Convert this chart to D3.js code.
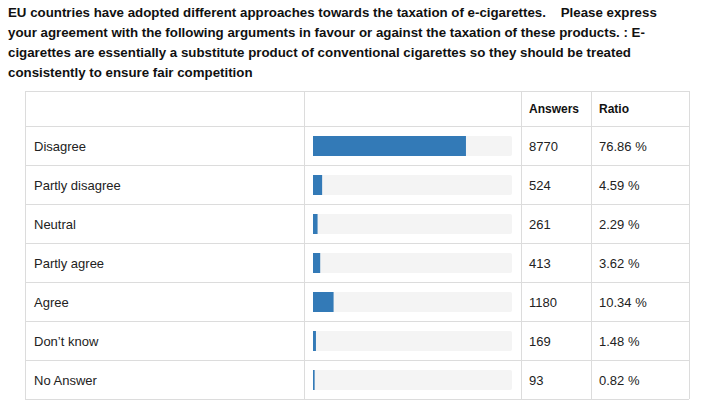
<!DOCTYPE html>
<html><head><meta charset="utf-8">
<script src="https://cdn.jsdelivr.net/npm/d3@7"></script>
<style>body{margin:0;background:#fff}</style></head>
<body><svg id="c" width="703" height="407"></svg>
<script>
const titleLines = ["EU countries have adopted different approaches towards the taxation of e-cigarettes.    Please express",
"your agreement with the following arguments in favour or against the taxation of these products. : E-",
"cigarettes are essentially a substitute product of conventional cigarettes so they should be treated",
"consistently to ensure fair competition"];
const categories = ["Disagree","Partly disagree","Neutral","Partly agree","Agree","Don\u2019t know","No Answer"];
const answers = [8770,524,261,413,1180,169,93];
const ratios = [76.86,4.59,2.29,3.62,10.34,1.48,0.82];
const headers = ["Answers","Ratio"];

(function(){
const svg = d3.select("#c");
const font = "Liberation Sans, Arial, sans-serif";
svg.selectAll("text.t").data(titleLines).join("text").attr("class","t")
  .attr("x",8).attr("y",(d,i)=>17+i*20).attr("font-family",font).attr("font-size",13.3)
  .attr("font-weight","bold").attr("fill","#111").style("white-space","pre").text(d=>d);

const tLeft=25,tRight=689,tTop=91,headH=35,rowH=39;
const colX=[tLeft,304,521,591,tRight];
const y=d3.scaleBand().domain(categories).range([tTop+headH,tTop+headH+rowH*categories.length]);
const x=d3.scaleLinear().domain([0,100]).range([313,512]);
const tBottom=tTop+headH+rowH*categories.length;
const g=svg.append("g");
const line="#dcdcdc";
const hs=[tTop,tTop+headH].concat(categories.map((c)=>y(c)+rowH));
g.selectAll("line.h").data(hs).join("line").attr("class","h").attr("x1",tLeft).attr("x2",tRight)
 .attr("y1",d=>d+0.5).attr("y2",d=>d+0.5).attr("stroke",line);
g.selectAll("line.v").data(colX).join("line").attr("class","v").attr("y1",tTop).attr("y2",tBottom)
 .attr("x1",d=>d+0.5).attr("x2",d=>d+0.5).attr("stroke",line);
g.selectAll("text.hd").data(headers).join("text").attr("class","hd").attr("x",(d,i)=>colX[2+i]+8).attr("y",tTop+22)
 .attr("font-family",font).attr("font-size",12).attr("font-weight","bold").attr("fill","#111").text(d=>d);
const rows=g.selectAll("g.r").data(categories).join("g").attr("class","r").attr("transform",d=>`translate(0,${y(d)})`);
rows.append("rect").attr("x",x(0)).attr("y",10).attr("width",x(100)-x(0)).attr("height",20).attr("rx",2).attr("fill","#f4f4f4");
rows.append("rect").attr("x",x(0)).attr("y",10).attr("width",(d,i)=>x(ratios[i])-x(0)).attr("height",20).attr("fill","#337ab7");
const tx=(sel,xp,f)=>sel.append("text").attr("x",xp).attr("y",24.5).attr("font-family",font).attr("font-size",13).attr("fill","#222").text(f);
tx(rows,34,d=>d);
tx(rows,529,(d,i)=>answers[i]);
tx(rows,599,(d,i)=>ratios[i].toFixed(2)+" %");
})();
</script></body></html>
